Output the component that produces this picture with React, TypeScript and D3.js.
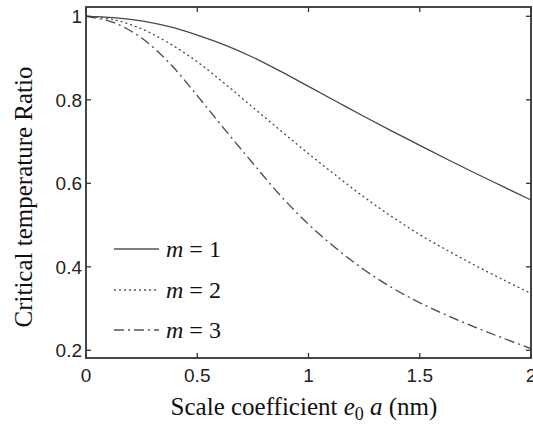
import React, { useEffect, useRef } from "react";
import * as d3 from "d3";

// scale coefficient e0a (nm)
const xValues = [0, 0.125, 0.25, 0.375, 0.5, 0.625, 0.75, 0.875, 1, 1.125, 1.25, 1.375, 1.5, 1.625, 1.75, 1.875, 2];
const ratioM1 = [1, 0.997, 0.989, 0.975, 0.955, 0.931, 0.902, 0.868, 0.832, 0.796, 0.76, 0.725, 0.691, 0.657, 0.624, 0.592, 0.56];
const ratioM2 = [1, 0.992, 0.97, 0.935, 0.891, 0.838, 0.782, 0.726, 0.671, 0.618, 0.567, 0.52, 0.477, 0.439, 0.403, 0.369, 0.336];
const ratioM3 = [1, 0.985, 0.948, 0.888, 0.81, 0.728, 0.648, 0.57, 0.502, 0.444, 0.393, 0.35, 0.314, 0.283, 0.255, 0.229, 0.204];

const xTicks = [0, 0.5, 1, 1.5, 2];
const yTicks = [0.2, 0.4, 0.6, 0.8, 1];

const series = [
  { label: "1", values: ratioM1, dash: null },
  { label: "2", values: ratioM2, dash: "2,3" },
  { label: "3", values: ratioM3, dash: "10,4,2,4" },
];

const W = 533;
const H = 424;

export default function App() {
  const svgRef = useRef<SVGSVGElement | null>(null);

  useEffect(() => {
    const svg = d3.select(svgRef.current);
    svg.selectAll("*").remove();

    const left = 86, right = 531, top = 7, bottom = 358;

    const x = d3.scaleLinear().domain([0, 2]).range([left, right]);
    const y = d3.scaleLinear().domain([0.2, 1]).range([350.3, 16.3]);

    const ink = "#333";
    const tickFont = "Liberation Sans, Arial, sans-serif";
    const serif = "Liberation Serif, Times New Roman, serif";

    const line = d3
      .line<number>()
      .x((_, i) => x(xValues[i]))
      .y((d) => y(d))
      .curve(d3.curveCatmullRom);

    series.forEach((s) => {
      svg
        .append("path")
        .attr("d", line(s.values))
        .attr("fill", "none")
        .attr("stroke", "#484848")
        .attr("stroke-width", 1.3)
        .attr("stroke-dasharray", s.dash);
    });

    // frame
    svg
      .append("rect")
      .attr("x", left)
      .attr("y", top)
      .attr("width", right - left)
      .attr("height", bottom - top)
      .attr("fill", "none")
      .attr("stroke", ink)
      .attr("stroke-width", 1.8);

    const tl = 5;
    xTicks.forEach((t) => {
      svg.append("line").attr("x1", x(t)).attr("x2", x(t)).attr("y1", bottom).attr("y2", bottom - tl).attr("stroke", ink).attr("stroke-width", 1.3);
      svg.append("line").attr("x1", x(t)).attr("x2", x(t)).attr("y1", top).attr("y2", top + tl).attr("stroke", ink).attr("stroke-width", 1.3);
      svg
        .append("text")
        .attr("x", x(t))
        .attr("y", 382)
        .attr("text-anchor", "middle")
        .style("font-family", tickFont)
        .style("font-size", "19px")
        .attr("fill", "#222")
        .text(d3.format("")(t));
    });

    yTicks.forEach((t) => {
      svg.append("line").attr("x1", left).attr("x2", left + tl).attr("y1", y(t)).attr("y2", y(t)).attr("stroke", ink).attr("stroke-width", 1.3);
      svg.append("line").attr("x1", right).attr("x2", right - tl).attr("y1", y(t)).attr("y2", y(t)).attr("stroke", ink).attr("stroke-width", 1.3);
      svg
        .append("text")
        .attr("x", left - 4)
        .attr("y", y(t) + 7)
        .attr("text-anchor", "end")
        .style("font-family", tickFont)
        .style("font-size", "19px")
        .attr("fill", "#222")
        .text(d3.format("")(t));
    });

    // legend
    const legendY = [249, 290, 330];
    series.forEach((s, i) => {
      svg
        .append("line")
        .attr("x1", 114)
        .attr("x2", 159)
        .attr("y1", legendY[i])
        .attr("y2", legendY[i])
        .attr("stroke", "#555")
        .attr("stroke-width", 1.3)
        .attr("stroke-dasharray", s.dash);
      const t = svg
        .append("text")
        .attr("x", 166)
        .attr("y", legendY[i] + 7.5)
        .style("font-family", serif)
        .style("font-size", "24px")
        .attr("fill", "#111");
      t.append("tspan").style("font-style", "italic").text("m");
      t.append("tspan").text(" = " + s.label);
    });

    // axis labels
    const xl = svg
      .append("text")
      .attr("x", 304)
      .attr("y", 415)
      .attr("text-anchor", "middle")
      .style("font-family", serif)
      .style("font-size", "25px")
      .attr("fill", "#111");
    xl.append("tspan").text("Scale coefficient ");
    xl.append("tspan").style("font-style", "italic").text("e");
    xl.append("tspan").style("font-size", "18px").attr("dy", 5).text("0");
    xl.append("tspan").style("font-style", "italic").attr("dy", -5).text(" a");
    xl.append("tspan").text(" (nm)");

    svg
      .append("text")
      .attr("transform", "translate(32,197) rotate(-90)")
      .attr("text-anchor", "middle")
      .style("font-family", serif)
      .style("font-size", "25px")
      .attr("fill", "#111")
      .text("Critical temperature Ratio");
  }, []);

  return (
    <svg
      ref={svgRef}
      width={W}
      height={H}
      style={{ position: "absolute", left: 0, top: 0, background: "#fff" }}
    />
  );
}
